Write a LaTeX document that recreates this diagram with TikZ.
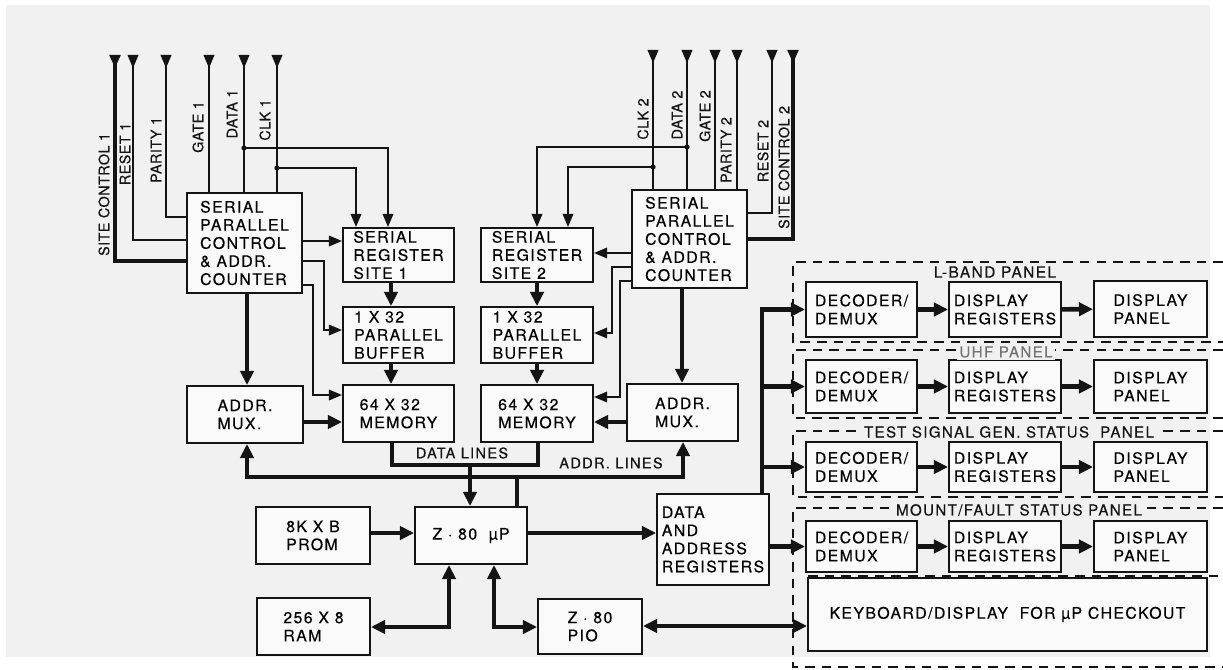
\documentclass[tikz,border=0pt]{standalone}
\usepackage{fontspec}
\setmainfont{TeX Gyre Heros}[LetterSpace=9,FakeBold=0.3]
\newfontfamily\labfont{TeX Gyre Heros}[LetterSpace=3,FakeBold=0.3]
\usetikzlibrary{arrows.meta}
\definecolor{bg}{RGB}{241,241,241}
\definecolor{boxfill}{RGB}{250,250,250}
\definecolor{ink}{RGB}{20,20,20}
\newcommand\blk[6]{\node[blk, minimum width={(#4-#2)*0.02cm}, minimum height={(#5-#3)*0.02cm}] (#1) at ({(#2+#4)/2},{(#3+#5)/2}) {#6};}
\begin{document}
\begin{tikzpicture}[x=0.02cm,y=-0.02cm,
  blk/.style={draw=ink, line width=1.1pt, fill=boxfill, align=left, inner sep=0pt,
    font=\fontsize{9}{10.3}\selectfont},
  thinw/.style={draw=ink, line width=1.1pt},
  busw/.style={draw=ink, line width=2.6pt},
  arr/.style={-{Triangle[length=7.5pt,width=6pt]}},
  barr/.style={-{Triangle[length=8pt,width=7.5pt]}},
  dbl/.style={{Triangle[length=8pt,width=7.5pt]}-{Triangle[length=8pt,width=7.5pt]}},
  inp/.style={{Triangle[reversed,length=7.5pt,width=6pt]}-},
  rlbl/.style={inner sep=1pt, text=ink, rotate=90, font=\labfont\fontsize{8.2}{9}\selectfont},
  lbl/.style={inner sep=1pt, text=ink, font=\fontsize{8.3}{9}\selectfont},
  plbl/.style={inner sep=1.5pt, fill=bg, text=ink, font=\fontsize{8.6}{9}\selectfont},
  dsh/.style={draw=ink, line width=1.4pt, dash pattern=on 5.5pt off 4pt},
  dot/.style={fill=ink}]
\fill[white] (0,0) rectangle (1223,669);
\fill[bg] (6,5) rectangle (1210,657);
\useasboundingbox (0,0) rectangle (1223,669);

% ---------- left site ----------
\blk{spcA}{187}{193}{302}{293}{SERIAL\\PARALLEL\\CONTROL\\\& ADDR.\\COUNTER}
\blk{srA}{343}{228}{454}{282}{SERIAL\\REGISTER\\SITE 1}
\blk{bufA}{343}{307}{454}{363}{1 X 32\\PARALLEL\\BUFFER}
\blk{memA}{343}{385}{454}{442}{64 X 32\\MEMORY}
\blk{muxA}{187}{386}{303}{443}{ADDR.\\MUX.}
% ---------- right site ----------
\blk{srB}{481}{228}{593}{282}{SERIAL\\REGISTER\\SITE 2}
\blk{bufB}{481}{307}{593}{363}{1 X 32\\PARALLEL\\BUFFER}
\blk{memB}{481}{385}{593}{442}{64 X 32\\MEMORY}
\blk{spcB}{632}{190}{747}{288}{SERIAL\\PARALLEL\\CONTROL\\\& ADDR.\\COUNTER}
\blk{muxB}{627}{384}{738}{441}{ADDR.\\MUX.}
% ---------- processor ----------
\blk{z80}{415}{507}{527}{564}{Z · 80\ \ µP}
\blk{prom}{256}{507}{370}{564}{8K X B\\PROM}
\blk{ram}{257}{598}{370}{655}{256 X 8\\RAM}
\blk{pio}{538}{599}{642}{654}{Z · 80\\PIO}
\blk{dar}{657}{494}{769}{585}{DATA\\AND\\ADDRESS\\REGISTERS}
% ---------- panels ----------
\blk{decL}{806}{282}{917}{337}{DECODER/\\DEMUX}
\blk{regL}{949}{282}{1061}{337}{DISPLAY\\REGISTERS}
\blk{panL}{1094}{281}{1207}{337}{DISPLAY\\PANEL}
\blk{decU}{806}{360}{917}{413}{DECODER/\\DEMUX}
\blk{regU}{949}{360}{1061}{413}{DISPLAY\\REGISTERS}
\blk{panU}{1094}{360}{1207}{413}{DISPLAY\\PANEL}
\blk{decT}{806}{442}{917}{492}{DECODER/\\DEMUX}
\blk{regT}{949}{442}{1061}{492}{DISPLAY\\REGISTERS}
\blk{panT}{1094}{442}{1207}{492}{DISPLAY\\PANEL}
\blk{decM}{806}{521}{917}{572}{DECODER/\\DEMUX}
\blk{regM}{949}{521}{1061}{572}{DISPLAY\\REGISTERS}
\blk{panM}{1094}{521}{1207}{572}{DISPLAY\\PANEL}
\blk{kbd}{808}{578}{1207}{651}{KEYBOARD/DISPLAY\ \ FOR µP\ CHECKOUT}

\draw[dsh] (1223,262) -- (793,262) -- (793,342) -- (1223,342);
\draw[dsh] (1223,350) -- (793,350) -- (793,418) -- (1223,418);
\draw[dsh] (1223,431) -- (793,431) -- (793,497) -- (1223,497);
\draw[dsh] (1223,508) -- (793,508) -- (793,667) -- (1223,667);
\draw[dsh] (808,576) -- (1223,576);
\node[lbl, font=\fontsize{8.8}{9}\selectfont] (tL) at (995,272) {L-BAND PANEL};
\node[plbl, text=black!55] (tU) at (1006,352) {UHF PANEL};
\node[plbl] (tT) at (1009,432) {TEST SIGNAL GEN. STATUS\ \ PANEL};
\node[plbl] (tM) at (1019,510) {MOUNT/FAULT STATUS PANEL};

% ---------- inputs, site 1 ----------
\coordinate (inSA) at (115,55);
\coordinate (inRA) at (133,55);
\coordinate (inPA) at (166,55);
\coordinate (inGA) at (209,55);
\coordinate (inDA) at (244,55);
\coordinate (inCA) at (277,55);
\coordinate (jDA) at (244,148);
\coordinate (jCA) at (277,168);
\draw[busw,inp] (inSA) |- (spcA.west |- 0,261);
\draw[thinw,inp] (inRA) |- (spcA.west |- 0,240);
\draw[thinw,inp] (inPA) |- (spcA.west |- 0,217);
\draw[thinw,inp] (inGA) -- (inGA |- spcA.north);
\draw[thinw,inp] (inDA) -- (inDA |- spcA.north);
\draw[thinw,inp] (inCA) -- (inCA |- spcA.north);
\draw[thinw,arr] (jDA) -| (srA.north -| 388,0);
\draw[thinw,arr] (jCA) -| (srA.north -| 356,0);
\fill[dot] (jDA) circle[radius=1.5pt];
\fill[dot] (jCA) circle[radius=1.5pt];
\node[rlbl, anchor=west] (lSA) at (104,258) {SITE CONTROL 1};
\node[rlbl] (lRA) at (125,154) {RESET 1};
\node[rlbl] (lPA) at (156,150) {PARITY 1};
\node[rlbl] (lGA) at (198,127) {GATE 1};
\node[rlbl] (lDA) at (232,114) {DATA 1};
\node[rlbl] (lCA) at (265,120) {CLK 1};

% ---------- inputs, site 2 ----------
\coordinate (inCB) at (653,50);
\coordinate (inDB) at (687,50);
\coordinate (inGB) at (715,50);
\coordinate (inPB) at (737,50);
\coordinate (inRB) at (772,50);
\coordinate (inSB) at (793,50);
\coordinate (jDB) at (687,147);
\coordinate (jCB) at (653,167);
\draw[busw,inp] (inSB) |- (spcB.east |- 0,239);
\draw[thinw,inp] (inRB) |- (spcB.east |- 0,213);
\draw[thinw,inp] (inPB) -- (inPB |- spcB.north);
\draw[thinw,inp] (inGB) -- (inGB |- spcB.north);
\draw[thinw,inp] (inDB) -- (inDB |- spcB.north);
\draw[thinw,inp] (inCB) -- (inCB |- spcB.north);
\draw[thinw,arr] (jDB) -| (srB.north -| 537,0);
\draw[thinw,arr] (jCB) -| (srB.north -| 568,0);
\fill[dot] (jDB) circle[radius=1.5pt];
\fill[dot] (jCB) circle[radius=1.5pt];
\node[rlbl] (lCB) at (643,119) {CLK 2};
\node[rlbl] (lDB) at (677,115) {DATA 2};
\node[rlbl] (lGB) at (705,116) {GATE 2};
\node[rlbl] (lPB) at (726,150) {PARITY 2};
\node[rlbl] (lRB) at (763,151) {RESET 2};
\node[rlbl, anchor=west] (lSB) at (784,231) {SITE CONTROL 2};

% ---------- site 1 internal ----------
\draw[thinw,arr] (spcA.east |- 0,241) -- (srA.west |- 0,241);
\draw[thinw,arr] (spcA.east |- 0,261) -| (324,330) -- (bufA.west |- 0,330);
\draw[thinw,arr] (spcA.east |- 0,285) -| (313,395) -- (memA.west |- 0,395);
\draw[busw,barr] (spcA.south -| 247,0) -- (muxA.north -| 247,0);
\draw[busw,barr] (muxA.east |- 0,422) -- (memA.west |- 0,422);
\draw[busw,barr] (srA.south -| 391,0) -- (bufA.north -| 391,0);
\draw[busw,barr] (bufA.south -| 391,0) -- (memA.north -| 391,0);
% ---------- site 2 internal ----------
\draw[thinw,arr] (spcB.west |- 0,253) -- (srB.east |- 0,253);
\draw[thinw,arr] (spcB.west |- 0,267) -| (612,333) -- (bufB.east |- 0,333);
\draw[thinw,arr] (spcB.west |- 0,281) -| (620,397) -- (memB.east |- 0,397);
\draw[busw,barr] (spcB.south -| 682,0) -- (muxB.north -| 682,0);
\draw[busw,barr] (muxB.west |- 0,422) -- (memB.east |- 0,422);
\draw[busw,barr] (srB.south -| 537,0) -- (bufB.north -| 537,0);
\draw[busw,barr] (bufB.south -| 537,0) -- (memB.north -| 537,0);

% ---------- buses ----------
\draw[busw] (memA.south -| 392,0) |- (538,465) -- (memB.south -| 538,0);
\draw[busw,barr] (470,465) -- (z80.north -| 470,0);
\draw[busw,dbl] (muxA.south -| 247,0) |- (683,477) -- (muxB.south -| 683,0);
\draw[busw] (z80.north -| 517,0) -- (517,477);
\node[lbl] (tData) at (462,453) {DATA LINES};
\node[lbl] (tAddr) at (611,463) {ADDR. LINES};

\draw[busw,barr] (prom.east |- 0,533) -- (z80.west |- 0,533);
\draw[busw,barr] (z80.east |- 0,533) -- (dar.west |- 0,533);
\draw[busw,dbl] (z80.south -| 449,0) |- (ram.east |- 0,627);
\draw[busw,dbl] (z80.south -| 494,0) |- (pio.west |- 0,627);
\draw[busw,dbl] (pio.east |- 0,626) -- (kbd.west |- 0,626);

% ---------- panel feeds ----------
\draw[busw,barr] (dar.north -| 762,0) |- (decL);
\draw[busw,barr] (decU -| 762,0) -- (decU);
\draw[busw,barr] (decT -| 762,0) -- (decT);
\draw[busw,barr] (dar.east |- decM) -- (decM);
\foreach \r in {L,U,T,M}{
  \draw[busw,barr] (dec\r) -- (reg\r);
  \draw[busw,barr] (reg\r) -- (pan\r);
}
\end{tikzpicture}
\end{document}
